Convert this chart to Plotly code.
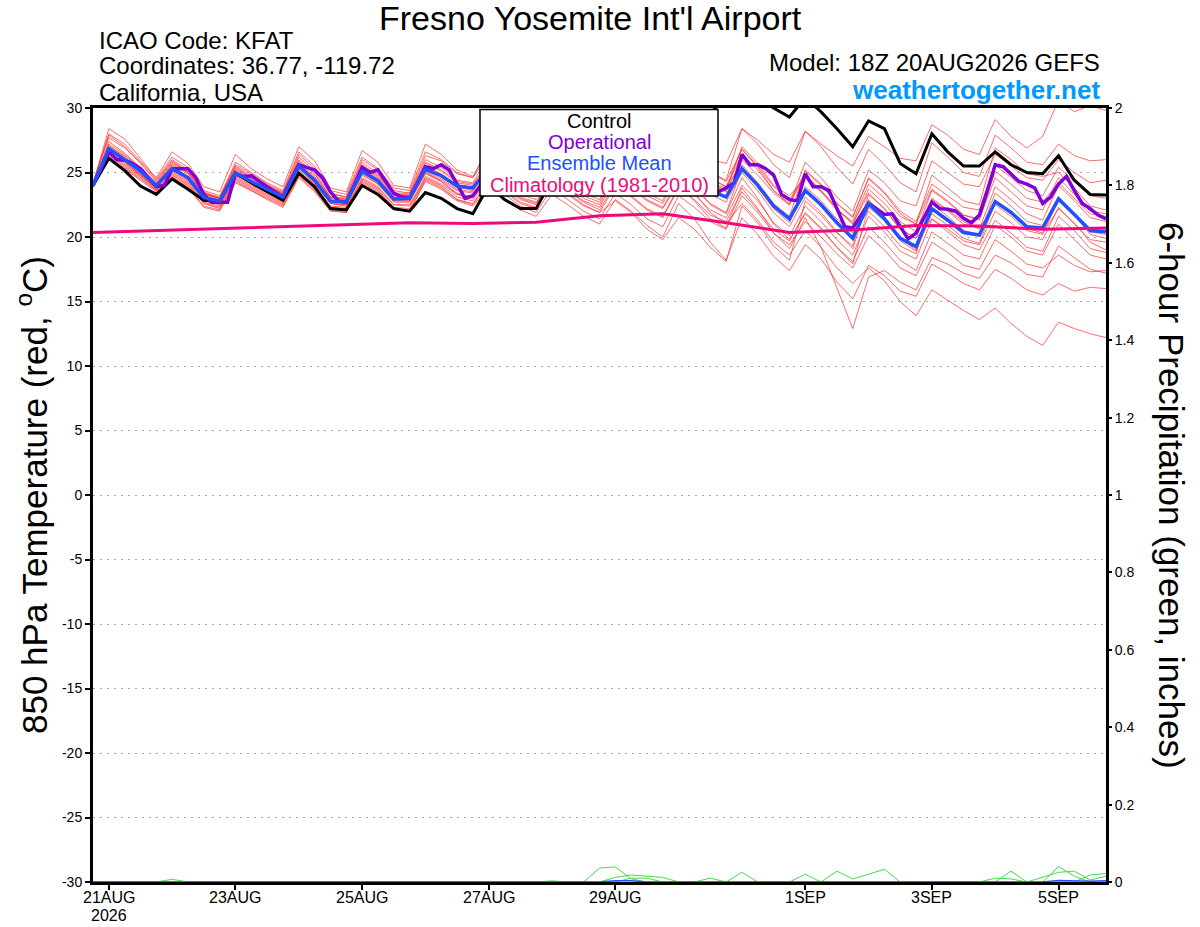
import pandas as pd
import plotly.graph_objects as go

# GEFS 18Z 20AUG2026 run, 6-hourly steps (operational is 3-hourly, climatology daily)
times = pd.date_range("2026-08-20 18:00", periods=65, freq="6h")
op_times = pd.date_range("2026-08-20 18:00", periods=129, freq="3h")
clim_times = pd.date_range("2026-08-20 18:00", periods=17, freq="24h")

tick_dates = ["2026-08-21", "2026-08-23", "2026-08-25", "2026-08-27",
              "2026-08-29", "2026-09-01", "2026-09-03", "2026-09-05"]
tick_labels = ["21AUG", "23AUG", "25AUG", "27AUG", "29AUG", "1SEP", "3SEP", "5SEP"]
temp_ticks = [-30, -25, -20, -15, -10, -5, 0, 5, 10, 15, 20, 25, 30]

control = [24.0,
    26.1, 25.15, 23.95, 23.3, 24.5, 23.7, 22.85, 22.75, 24.95, 24.2, 23.5, 22.85, 24.95, 23.9, 22.2, 22.1,
    24.0, 23.3, 22.2, 22.0, 23.45, 23.0, 22.2, 21.8, 24.0, 22.9, 22.2, 22.2, 24.5, 24.6, 24.9, 25.5,
    27.0, 26.8, 27.0, 27.6, 29.0, 29.2, 29.6, 30.8, 31.8, 30.8, 30.0, 29.3, 30.8, 29.7, 28.4, 27.0,
    29.0, 28.4, 25.7, 24.9, 28.0, 26.6, 25.5, 25.5, 26.6, 25.6, 25.0, 24.9, 26.3, 24.4, 23.3, 23.25]

ens_mean = [24.0,
    26.85, 26.0, 25.1, 24.0, 25.3, 24.6, 23.05, 22.8, 24.95, 24.3, 23.7, 23.1, 25.5, 24.4, 22.8, 22.7,
    25.1, 24.35, 22.95, 23.0, 25.25, 24.75, 23.95, 23.8, 25.3, 24.6, 23.9, 23.6, 25.3, 24.8, 24.2, 23.9,
    25.6, 25.0, 24.2, 23.8, 25.4, 24.6, 23.6, 23.1, 25.3, 24.0, 22.4, 21.4, 23.6, 22.5, 21.1, 19.9,
    22.6, 21.4, 19.9, 19.25, 22.2, 21.3, 20.35, 20.15, 22.75, 21.9, 20.8, 20.7, 22.95, 21.75, 20.5, 20.4]

operational = [24.0,
    25.3, 26.6, 26.0, 25.95, 25.7, 25.3, 24.6, 23.9, 24.0, 25.3, 25.3, 25.3, 24.6, 23.3, 22.7, 22.7,
    22.7, 24.9, 24.7, 24.75, 24.3, 23.9, 23.5, 23.1, 24.4, 25.6, 25.4, 25.2, 24.6, 23.5, 22.8, 22.7,
    24.0, 25.4, 25.0, 25.2, 24.3, 23.4, 23.1, 23.0, 24.2, 25.45, 25.3, 25.6, 25.2, 24.1, 23.0, 23.2,
    24.0, 24.6, 24.3, 24.0, 23.8, 23.6, 23.5, 23.7, 24.5, 25.3, 25.0, 24.7, 24.2, 23.8, 23.6, 23.5,
    24.4, 25.6, 25.3, 25.0, 24.5, 24.0, 23.7, 23.6, 24.5, 25.5, 25.0, 24.4, 23.9, 23.6, 23.5, 23.8,
    24.2, 26.4, 25.6, 25.6, 25.3, 24.8, 23.3, 22.9, 22.8, 24.9, 23.9, 23.9, 23.6, 22.2, 20.8, 20.7,
    21.6, 22.6, 22.2, 21.75, 21.8, 20.8, 19.85, 20.3, 21.5, 22.7, 22.2, 22.15, 22.0, 21.45, 21.1, 21.7,
    23.6, 25.6, 25.45, 24.9, 24.3, 24.1, 23.8, 22.6, 23.1, 24.1, 24.7, 23.6, 22.6, 22.2, 21.7, 21.4]

climatology = [20.35, 20.5, 20.65, 20.8, 20.95, 21.1, 21.05, 21.15, 21.65,
               21.8, 21.1, 20.35, 20.55, 20.9, 20.85, 20.6, 20.7]

# ensemble members (thin red)
m01 = [24.1,
    28.4, 27.6, 26.1, 24.5, 26.2, 25.4, 23.6, 23.2, 25.6, 24.9, 24.1, 23.5, 26.4, 25.3, 23.4, 23.1,
    26.0, 25.2, 23.6, 23.4, 26.3, 25.9, 24.9, 24.6, 26.4, 25.8, 25.0, 24.8, 26.7, 26.1, 25.6, 25.3,
    27.2, 26.6, 25.9, 25.6, 27.6, 26.9, 26.0, 25.7, 28.4, 27.5, 26.4, 25.8, 28.2, 27.2, 26.3, 25.5,
    27.8, 27.0, 26.1, 25.9, 28.7, 27.9, 26.8, 26.4, 29.1, 27.8, 26.9, 27.8, 30.6, 29.7, 30.2, 29.8]
m02 = [24.2,
    28.0, 27.2, 25.9, 24.6, 26.6, 25.7, 23.9, 23.5, 26.4, 25.3, 24.5, 23.9, 27.0, 25.9, 23.8, 23.5,
    26.7, 25.8, 24.0, 23.8, 27.2, 26.4, 25.2, 24.7, 26.9, 26.0, 25.1, 24.8, 26.5, 25.9, 25.2, 24.9,
    26.9, 26.2, 25.3, 24.8, 27.0, 26.1, 25.0, 24.4, 28.4, 27.2, 25.6, 24.6, 28.2, 27.0, 25.4, 24.1,
    26.8, 25.6, 24.2, 23.5, 27.3, 26.2, 25.0, 24.7, 27.9, 26.9, 25.8, 25.6, 27.2, 26.3, 25.9, 26.0]
m03 = [24.0,
    27.4, 26.5, 25.4, 24.2, 25.8, 25.1, 23.4, 23.1, 25.3, 24.6, 24.0, 23.4, 25.9, 24.9, 23.1, 22.9,
    25.5, 24.7, 23.3, 23.3, 25.7, 25.1, 24.2, 24.0, 25.9, 25.2, 24.4, 24.0, 26.0, 25.4, 24.8, 24.3,
    26.4, 25.7, 24.8, 24.3, 26.1, 25.2, 24.1, 23.5, 26.0, 24.8, 23.4, 22.5, 25.1, 24.0, 22.6, 21.5,
    24.6, 23.5, 22.0, 21.2, 24.1, 23.2, 22.3, 22.1, 25.6, 24.6, 23.6, 23.2, 25.4, 24.3, 23.2, 23.0]
m04 = [23.9,
    27.1, 26.2, 25.2, 24.1, 25.5, 24.7, 23.2, 22.9, 25.1, 24.4, 23.8, 23.2, 25.7, 24.6, 23.0, 22.8,
    25.3, 24.5, 23.1, 23.1, 25.5, 24.9, 24.0, 23.8, 25.4, 24.5, 23.6, 23.2, 24.9, 24.2, 23.4, 22.9,
    25.2, 24.3, 23.4, 22.8, 25.9, 25.1, 24.2, 23.8, 26.4, 25.2, 23.6, 22.6, 24.8, 23.6, 22.2, 21.0,
    23.4, 22.2, 20.6, 19.9, 23.0, 22.1, 21.2, 20.6, 23.9, 22.9, 21.8, 21.3, 24.0, 22.8, 21.5, 21.2]
m05 = [24.0,
    26.5, 25.7, 24.9, 23.8, 25.0, 24.3, 22.8, 22.5, 24.7, 24.0, 23.4, 22.8, 25.2, 24.1, 22.6, 22.4,
    24.8, 24.1, 22.7, 22.7, 25.0, 24.4, 23.6, 23.4, 24.8, 24.0, 23.1, 22.7, 24.3, 23.6, 22.8, 22.3,
    24.6, 23.8, 22.8, 22.2, 24.2, 23.3, 22.1, 21.5, 24.0, 22.8, 21.1, 20.1, 22.4, 21.2, 19.8, 18.6,
    21.6, 20.4, 18.9, 18.3, 21.4, 20.6, 19.7, 19.4, 22.0, 21.1, 20.0, 19.8, 22.3, 21.0, 19.8, 19.6]
m06 = [24.1,
    26.9, 26.1, 25.0, 23.9, 25.3, 24.6, 23.0, 22.8, 24.9, 24.3, 23.6, 23.0, 25.5, 24.3, 22.7, 22.6,
    25.0, 24.3, 22.9, 22.9, 25.2, 24.7, 23.9, 23.7, 25.6, 24.9, 24.2, 23.9, 25.8, 25.3, 24.7, 24.4,
    26.0, 25.4, 24.6, 24.2, 25.3, 24.4, 23.3, 22.7, 25.0, 23.6, 21.9, 20.8, 23.1, 21.9, 20.4, 19.1,
    22.9, 21.6, 19.9, 19.0, 22.6, 21.6, 20.5, 20.2, 23.4, 22.4, 21.2, 20.9, 23.1, 21.8, 20.4, 20.2]
m07 = [23.8,
    26.2, 25.4, 24.6, 23.6, 24.7, 24.0, 22.6, 22.3, 24.5, 23.8, 23.2, 22.6, 24.9, 23.8, 22.3, 22.2,
    24.6, 23.9, 22.5, 22.5, 24.7, 24.1, 23.3, 23.1, 24.5, 23.6, 22.7, 22.3, 24.1, 23.3, 22.4, 21.9,
    24.0, 23.1, 22.1, 21.5, 23.8, 22.9, 21.7, 21.2, 23.5, 22.1, 20.6, 19.7, 21.9, 20.7, 19.2, 18.1,
    20.8, 19.6, 18.2, 17.4, 20.4, 19.5, 18.6, 18.3, 20.9, 20.0, 18.9, 18.6, 21.0, 19.8, 18.6, 18.3]
m08 = [24.0,
    26.7, 25.9, 24.8, 23.8, 25.1, 24.4, 22.9, 22.6, 24.8, 24.1, 23.5, 22.9, 25.3, 24.2, 22.6, 22.5,
    24.9, 24.1, 22.8, 22.8, 24.9, 24.3, 23.4, 23.1, 24.6, 23.8, 22.9, 22.5, 24.4, 23.6, 22.7, 22.1,
    24.2, 23.2, 22.2, 21.6, 23.9, 22.8, 21.4, 20.7, 23.8, 22.2, 20.3, 19.1, 21.5, 19.2, 16.0, 12.9,
    16.9, 17.4, 16.5, 15.9, 18.4, 17.9, 17.2, 16.8, 18.6, 18.0, 17.1, 16.9, 19.3, 18.4, 17.5, 17.2]
m09 = [23.9,
    26.0, 25.3, 24.4, 23.5, 24.6, 23.8, 22.3, 22.0, 24.2, 23.6, 22.9, 22.3, 24.6, 23.5, 22.0, 21.9,
    24.2, 23.5, 22.1, 22.0, 24.3, 23.7, 22.8, 22.4, 23.9, 23.0, 22.1, 21.6, 23.3, 22.5, 21.6, 21.0,
    22.9, 22.0, 20.9, 20.0, 22.6, 21.4, 19.6, 18.2, 21.5, 20.2, 18.5, 17.4, 19.4, 18.3, 16.5, 15.2,
    17.8, 17.0, 15.8, 15.4, 17.9, 17.2, 16.4, 15.9, 17.5, 16.8, 15.9, 15.5, 16.4, 15.8, 16.1, 16.0]
m10 = [24.0,
    26.3, 25.5, 24.7, 23.7, 24.8, 24.1, 22.6, 22.2, 24.4, 23.7, 23.1, 22.5, 24.8, 23.7, 22.2, 22.0,
    24.4, 23.7, 22.3, 22.2, 24.6, 24.0, 23.1, 22.8, 24.6, 23.9, 23.0, 22.6, 24.8, 24.1, 23.2, 22.7,
    25.2, 24.3, 23.2, 22.6, 25.0, 23.9, 22.5, 21.8, 24.6, 23.0, 21.0, 19.8, 21.8, 20.6, 19.2, 17.9,
    22.3, 21.3, 19.7, 18.9, 21.8, 20.9, 19.9, 19.5, 22.7, 21.8, 20.7, 20.3, 22.2, 21.1, 19.6, 19.0]
m11 = [24.2,
    27.7, 26.9, 25.8, 24.4, 26.0, 25.2, 23.5, 23.0, 25.8, 25.0, 24.2, 23.6, 26.6, 25.5, 23.6, 23.3,
    26.2, 25.3, 23.8, 23.6, 26.6, 26.0, 25.0, 24.6, 27.0, 26.3, 25.4, 25.1, 27.3, 26.7, 26.0, 25.6,
    27.5, 26.8, 25.9, 25.4, 27.1, 26.2, 25.0, 24.3, 26.8, 25.4, 23.6, 22.5, 25.8, 24.6, 23.1, 22.0,
    25.2, 24.2, 22.8, 22.4, 25.9, 25.0, 24.1, 23.9, 26.4, 25.5, 24.6, 24.4, 26.0, 25.0, 24.2, 24.4]
m12 = [23.9,
    27.0, 26.3, 25.3, 24.0, 25.6, 24.9, 23.3, 23.0, 25.2, 24.5, 23.9, 23.3, 25.8, 24.7, 23.1, 23.0,
    25.4, 24.6, 23.2, 23.2, 25.8, 25.2, 24.3, 24.1, 25.7, 25.0, 24.2, 23.9, 25.5, 24.9, 24.1, 23.7,
    25.9, 25.2, 24.3, 23.8, 26.3, 25.4, 24.2, 23.6, 27.0, 25.7, 24.0, 23.2, 24.6, 23.5, 22.1, 21.2,
    24.1, 23.0, 21.6, 21.0, 24.8, 23.8, 22.8, 22.5, 26.9, 26.0, 24.9, 24.7, 25.0, 23.8, 22.4, 22.1]
m13 = [24.0,
    26.4, 25.6, 24.8, 23.7, 24.9, 24.2, 22.7, 22.4, 24.6, 23.9, 23.3, 22.7, 25.0, 23.9, 22.4, 22.3,
    24.5, 23.8, 22.5, 22.4, 24.5, 23.9, 22.9, 22.5, 24.2, 23.3, 22.4, 21.9, 23.8, 22.9, 22.0, 21.4,
    23.4, 22.5, 21.4, 20.8, 23.2, 22.3, 21.2, 20.6, 23.2, 21.9, 20.3, 19.4, 21.2, 20.0, 18.7, 17.6,
    20.1, 19.0, 17.6, 17.0, 19.6, 18.8, 17.8, 17.5, 19.8, 18.9, 17.9, 17.6, 18.6, 17.8, 17.3, 17.4]
m14 = [24.1,
    27.9, 27.0, 25.7, 24.3, 25.9, 25.0, 23.3, 23.0, 25.5, 24.7, 24.0, 23.4, 26.2, 25.1, 23.3, 23.1,
    25.8, 24.9, 23.4, 23.4, 26.0, 25.4, 24.4, 24.2, 26.3, 25.6, 24.7, 24.4, 26.4, 25.8, 25.1, 24.7,
    26.8, 26.1, 25.2, 24.7, 26.6, 25.7, 24.5, 23.9, 26.8, 25.5, 23.9, 22.9, 24.8, 23.6, 22.2, 21.0,
    23.7, 22.6, 21.2, 20.4, 23.6, 22.7, 21.7, 21.4, 24.6, 23.5, 22.4, 22.1, 24.6, 23.3, 22.0, 21.8]
m15 = [24.0,
    27.2, 26.4, 25.3, 24.1, 25.7, 25.0, 23.4, 23.0, 25.4, 24.6, 24.0, 23.3, 26.0, 24.9, 23.1, 22.9,
    25.6, 24.8, 23.3, 23.2, 25.4, 24.8, 23.9, 23.6, 25.8, 25.0, 24.1, 23.7, 26.1, 25.5, 24.7, 24.2,
    26.6, 25.9, 25.0, 24.5, 26.8, 25.8, 24.6, 23.9, 25.6, 24.2, 22.6, 21.6, 25.2, 24.1, 22.6, 21.6,
    24.5, 23.4, 21.8, 21.0, 23.7, 22.8, 21.7, 21.3, 25.1, 24.1, 23.0, 22.7, 24.2, 23.0, 21.8, 21.6]
m16 = [23.9,
    26.1, 25.3, 24.5, 23.6, 24.6, 23.9, 22.4, 22.1, 24.3, 23.6, 23.0, 22.4, 24.7, 23.6, 22.1, 21.9,
    24.3, 23.6, 22.2, 22.0, 24.4, 23.8, 22.9, 22.6, 24.3, 23.5, 22.6, 22.2, 24.6, 23.9, 23.0, 22.5,
    24.9, 24.0, 22.9, 22.3, 24.4, 23.4, 21.9, 21.0, 22.6, 21.3, 19.6, 18.6, 20.5, 19.2, 17.6, 16.4,
    17.6, 16.6, 15.0, 13.9, 15.9, 15.1, 14.3, 13.6, 14.5, 13.3, 12.3, 11.6, 13.4, 12.9, 12.5, 12.2]
m17 = [24.0,
    26.6, 25.8, 24.8, 23.8, 25.2, 24.5, 22.9, 22.6, 24.8, 24.2, 23.6, 23.0, 25.4, 24.2, 22.6, 22.5,
    25.0, 24.2, 22.8, 22.8, 25.1, 24.5, 23.7, 23.5, 25.1, 24.4, 23.5, 23.2, 25.1, 24.5, 23.8, 23.4,
    25.5, 24.7, 23.8, 23.3, 24.8, 23.8, 22.6, 21.9, 25.3, 23.9, 22.2, 21.1, 23.9, 22.8, 21.4, 20.3,
    22.0, 20.8, 19.3, 18.7, 22.9, 22.0, 21.0, 20.7, 22.5, 21.6, 20.5, 20.2, 22.9, 21.7, 20.2, 19.9]
m18 = [24.0,
    26.8, 26.0, 25.0, 23.9, 25.4, 24.6, 23.1, 22.7, 24.9, 24.2, 23.6, 23.0, 25.4, 24.3, 22.8, 22.7,
    25.1, 24.4, 22.9, 23.0, 25.0, 24.3, 23.3, 23.0, 24.9, 24.1, 23.3, 22.9, 24.2, 23.4, 22.5, 21.9,
    22.8, 21.9, 20.6, 19.8, 21.5, 20.6, 19.2, 18.1, 22.4, 21.1, 19.3, 18.2, 22.8, 21.7, 20.3, 19.3,
    23.3, 22.2, 20.6, 19.9, 21.4, 20.4, 19.4, 19.0, 21.3, 20.3, 19.2, 18.9, 21.6, 20.5, 19.1, 18.8]

members = [m01, m02, m03, m04, m05, m06, m07, m08, m09,
           m10, m11, m12, m13, m14, m15, m16, m17, m18]

# 6-hour precipitation (inches), a few members with any rain plus the mean
precip_a = [0, 0, 0, 0, 0, 0.007, 0, 0, 0, 0, 0, 0, 0,
            0, 0, 0, 0, 0, 0, 0, 0, 0, 0, 0, 0, 0,
            0, 0, 0, 0, 0, 0, 0.036, 0.039, 0.008, 0, 0, 0, 0,
            0, 0, 0.025, 0, 0, 0, 0, 0, 0.028, 0.008, 0.02, 0.033, 0,
            0, 0, 0, 0, 0, 0, 0, 0, 0, 0.04, 0.015, 0, 0]
precip_b = [0, 0, 0, 0, 0, 0, 0, 0, 0, 0, 0, 0, 0,
            0, 0, 0, 0, 0, 0, 0, 0, 0, 0, 0, 0, 0,
            0, 0, 0, 0, 0, 0, 0, 0.012, 0.018, 0.015, 0.012, 0, 0,
            0.01, 0, 0, 0, 0, 0, 0.02, 0, 0, 0, 0, 0, 0,
            0, 0, 0, 0, 0, 0, 0.028, 0, 0, 0, 0, 0.018, 0.022]
precip_c = [0, 0, 0, 0, 0, 0, 0, 0, 0, 0, 0, 0, 0,
            0, 0, 0, 0, 0, 0, 0, 0, 0, 0, 0, 0, 0,
            0, 0, 0, 0.003, 0, 0, 0, 0, 0.01, 0.01, 0, 0, 0,
            0, 0, 0, 0, 0, 0, 0, 0, 0, 0, 0, 0, 0,
            0, 0, 0, 0, 0, 0.01, 0.008, 0, 0.012, 0.025, 0.028, 0.005, 0.015]
precip_mean = [0, 0, 0, 0, 0, 0, 0, 0, 0, 0, 0, 0, 0,
               0, 0, 0, 0, 0, 0, 0, 0, 0, 0, 0, 0, 0,
               0, 0, 0, 0, 0, 0, 0, 0.003, 0.003, 0, 0, 0, 0,
               0, 0, 0, 0, 0, 0, 0, 0, 0, 0, 0, 0, 0,
               0, 0, 0, 0, 0, 0, 0, 0, 0, 0.004, 0.003, 0.002, 0.003]

for series in members + [control, ens_mean, precip_a, precip_b, precip_c, precip_mean]:
    assert len(series) == len(times)
assert len(operational) == len(op_times)
assert len(climatology) == len(clim_times)

# plot area in pixels of the 1200x927 page
L, R, T, B = 93, 1106, 108, 882


def px(x):
    return (x - L) / (R - L)


def py(y):
    return (B - y) / (B - T)


FONT = "Liberation Sans, Arial, Helvetica, sans-serif"

fig = go.Figure()

for m in members:
    fig.add_trace(go.Scatter(x=times, y=m, mode="lines",
                             line=dict(color="rgba(255,45,45,0.7)", width=1),
                             hoverinfo="skip"))

for p in [precip_a, precip_b, precip_c]:
    fig.add_trace(go.Scatter(x=times, y=p, mode="lines", yaxis="y2",
                             line=dict(color="#44dd44", width=1)))
fig.add_trace(go.Scatter(x=times, y=precip_mean, mode="lines", yaxis="y2",
                         line=dict(color="#2050ff", width=1.5)))

fig.add_trace(go.Scatter(x=times, y=control, mode="lines", name="Control",
                         line=dict(color="black", width=3)))
fig.add_trace(go.Scatter(x=op_times, y=operational, mode="lines", name="Operational",
                         line=dict(color="#8000d8", width=3.5)))
fig.add_trace(go.Scatter(x=times, y=ens_mean, mode="lines", name="Ensemble Mean",
                         line=dict(color="#2050ff", width=3.5)))
fig.add_trace(go.Scatter(x=clim_times, y=climatology, mode="lines", name="Climatology",
                         line=dict(color="#ee0a7e", width=3)))

fig.update_layout(
    width=1200, height=927,
    margin=dict(l=L, r=1200 - R, t=T, b=927 - B),
    plot_bgcolor="white", paper_bgcolor="white",
    font=dict(family=FONT, color="black"),
    showlegend=False,
    xaxis=dict(type="date", range=[times[0], times[-1]],
               tickvals=tick_dates, showticklabels=False,
               ticks="outside", ticklen=5, tickwidth=1.5, tickcolor="black",
               automargin=False,
               showline=True, linewidth=3, linecolor="black", mirror=True,
               showgrid=False, zeroline=False),
    yaxis=dict(range=[-30, 30], tickvals=temp_ticks, ticktext=[str(v) for v in temp_ticks],
               ticks="outside", ticklen=5, tickwidth=1.5, tickcolor="black",
               tickfont=dict(size=14), automargin=False,
               showgrid=True, gridcolor="#a8a8a8", gridwidth=1, griddash="2px,5px",
               showline=True, linewidth=3, linecolor="black", mirror=True,
               zeroline=False),
    yaxis2=dict(range=[0, 2], tick0=0, dtick=0.2, overlaying="y", side="right",
                ticks="outside", ticklen=5, tickwidth=1.5, tickcolor="black",
                tickfont=dict(size=14), automargin=False,
                showgrid=False, zeroline=False, showline=False),
)

# date labels under the ticks, year under the first one
for d, lab in zip(tick_dates, tick_labels):
    fig.add_annotation(text=lab, x=d, xref="x", y=py(897), yref="paper",
                       xanchor="center", yanchor="middle", showarrow=False,
                       font=dict(size=16))
fig.add_annotation(text="2026", x=tick_dates[0], xref="x", y=py(915), yref="paper",
                   xanchor="center", yanchor="middle", showarrow=False,
                   font=dict(size=16))

# legend box at the top of the plot
fig.add_shape(type="rect", xref="paper", yref="paper",
              x0=px(480), x1=px(718), y0=py(196), y1=py(109.5),
              fillcolor="white", line=dict(color="black", width=1.5), layer="above")
legend_rows = [("Control", "black", 121), ("Operational", "#8000d8", 142),
               ("Ensemble Mean", "#2050ff", 163),
               ("Climatology (1981-2010)", "#ee0a7e", 185)]
for text, color, y in legend_rows:
    fig.add_annotation(text=text, xref="paper", yref="paper", x=px(599), y=py(y),
                       xanchor="center", yanchor="middle", showarrow=False,
                       font=dict(size=20, color=color))

# header text
fig.add_annotation(text="Fresno Yosemite Int'l Airport", xref="paper", yref="paper",
                   x=px(590), y=py(18), xanchor="center", yanchor="middle",
                   showarrow=False, font=dict(size=34))
for text, y in [("ICAO Code: KFAT", 40), ("Coordinates: 36.77, -119.72", 66),
                ("California, USA", 93)]:
    fig.add_annotation(text=text, xref="paper", yref="paper", x=px(97), y=py(y),
                       xanchor="left", yanchor="middle", showarrow=False,
                       font=dict(size=24))
fig.add_annotation(text="Model: 18Z 20AUG2026 GEFS", xref="paper", yref="paper",
                   x=px(1102), y=py(63), xanchor="right", yanchor="middle",
                   showarrow=False, font=dict(size=24))
fig.add_annotation(text="<b>weathertogether.net</b>", xref="paper", yref="paper",
                   x=px(1102), y=py(90), xanchor="right", yanchor="middle",
                   showarrow=False, font=dict(size=26, color="#0099ff"))

# axis titles
fig.add_annotation(text="850 hPa Temperature (red, <sup>o</sup>C)", xref="paper", yref="paper",
                   x=px(32), y=0.5, textangle=-90, xanchor="center", yanchor="middle",
                   showarrow=False, font=dict(size=35))
fig.add_annotation(text="6-hour Precipitation (green, inches)", xref="paper", yref="paper",
                   x=px(1172), y=0.5, textangle=90, xanchor="center", yanchor="middle",
                   showarrow=False, font=dict(size=35))

# no page margin, so the 1200x927 figure fills the window exactly
fig.write_html("out.html", config={"displayModeBar": False},
               post_script="document.body.style.margin='0';document.body.style.overflow='hidden';")
